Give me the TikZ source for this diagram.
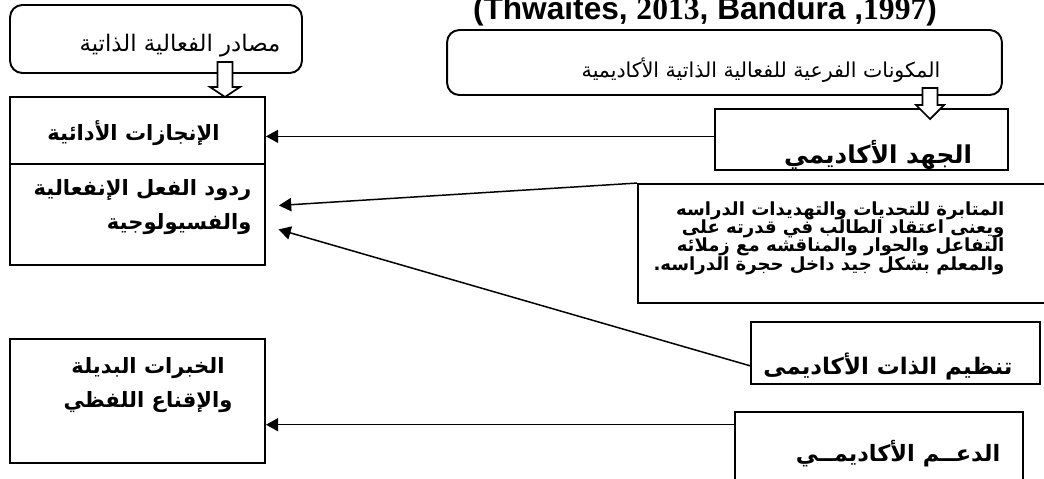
\documentclass[tikz,border=0pt]{standalone}
\usepackage{fontspec}
\setmainfont{Liberation Serif}
\setsansfont{Liberation Sans}
\newfontfamily\arabicfont[Script=Arabic]{DejaVu Sans}
\TeXXeTstate=1
\usepackage{tikz}
\usetikzlibrary{arrows.meta,calc}

\begin{document}
\begin{tikzpicture}[x=0.02cm, y=-0.02cm,
    box/.style={draw, line width=1.1pt, rectangle, inner sep=0pt},
    rbox/.style={box, rounded corners=7pt},
    lbl/.style={font=\arabicfont\bfseries\fontsize{12}{19}\selectfont, inner sep=0pt, align=center},
    nlbl/.style={font=\arabicfont\fontsize{12}{16}\selectfont, inner sep=0pt},
    conn/.style={-{Triangle[length=7pt,width=7.5pt]}, line width=0.85pt},
    hollow/.style={draw, fill=white, line width=1pt, line join=miter}
  ]
  \useasboundingbox (0,0) rectangle (1044,478);
  \clip (0,0) rectangle (1044,478);

  % title (cut at the top)
  \node[font=\bfseries\sffamily\fontsize{18}{18}\selectfont, anchor=base, inner sep=0pt] (ttl) at (705,19)
    {(Thwaites, {\rmfamily 2013}, Bandura ,{\rmfamily 1997})};

  % boxes
  \node[rbox, minimum width=5.84cm, minimum height=1.36cm] (src)  at (156,39) {};
  \node[rbox, minimum width=11.1cm, minimum height=1.3cm]  (comp) at (724.5,62.5) {};
  \node[box, minimum width=5.1cm, minimum height=1.34cm]   (ach)  at (137.5,130.5) {};
  \node[box, minimum width=5.1cm, minimum height=2.02cm]   (emo)  at (137.5,214.5) {};
  \node[box, minimum width=5.1cm, minimum height=2.48cm]   (khib) at (137.5,401) {};
  \node[box, minimum width=5.86cm, minimum height=1.22cm]  (jahd) at (861.5,139.5) {};
  \node[box, minimum width=8.44cm, minimum height=2.38cm]  (mut)  at (849,243.5) {};
  \node[box, minimum width=5.78cm, minimum height=1.24cm]  (tanz) at (895.5,353) {};
  \node[box, minimum width=5.76cm, minimum height=1.4cm]   (daam) at (879,447) {};

  % texts
  \node[nlbl, font=\arabicfont\fontsize{13}{16}\selectfont] (srcT) at (180,46) {\beginR مصادر الفعالية الذاتية\endR};
  \node[nlbl, font=\arabicfont\fontsize{11.7}{16}\selectfont] (compT) at (761,70) {\beginR المكونات الفرعية للفعالية الذاتية الأكاديمية\endR};
  \node[lbl]  (achT)  at (133.5,133) {\beginR الإنجازات الأدائية\endR};
  \node[lbl, align=right] (emoT) at (142.5,207) {\beginR ردود الفعل الإنفعالية\endR\\ \beginR والفسيولوجية\endR};
  \node[lbl]  (khibT) at (148,385) {\beginR الخبرات البديلة\endR\\ \beginR والإقناع اللفظي\endR};
  \node[lbl, font=\arabicfont\bfseries\fontsize{14}{19}\selectfont] (jahdT) at (878,155) {\beginR الجهد الأكاديمي\endR};
  \node[lbl, font=\arabicfont\bfseries\fontsize{10.3}{10.4}\selectfont, align=right] (mutT) at (829,238)
    {\beginR المتابرة للتحديات والتهديدات الدراسه\endR\\
     \beginR ويعنى اعتقاد الطالب في قدرته على\endR\\
     \beginR التفاعل والحوار والمناقشه مع زملائه\endR\\
     \beginR والمعلم بشكل جيد  داخل حجرة الدراسه.\endR};
  \node[lbl, font=\arabicfont\bfseries\fontsize{13}{19}\selectfont] (tanzT) at (888,366) {\beginR تنظيم الذات الأكاديمى\endR};
  \node[lbl, font=\arabicfont\bfseries\fontsize{12.8}{19}\selectfont] (daamT) at (898,454) {\beginR الدعــم الأكاديمــي\endR};

  % block arrows
  \coordinate (tipL) at (225,97);
  \coordinate (tipR) at (930,119);
  \draw[hollow] (tipL) -- ++(-15,-10) -- ++(7.5,0) -- ++(0,-25) -- ++(15,0) -- ++(0,25) -- ++(7.5,0) -- cycle;
  \draw[hollow] (tipR) -- ++(-14,-14) -- ++(6.5,0) -- ++(0,-17) -- ++(15,0) -- ++(0,17) -- ++(6.5,0) -- cycle;

  % connectors
  \coordinate (a1) at ($(jahd.north west)!.45!(jahd.south west)$);
  \draw[conn] (a1) -- (a1 -| ach.east);
  \draw[conn, shorten >=0.26cm] (mut.north west) -- ($(emo.north east)!.42!(emo.south east)$);
  \draw[conn, shorten >=0.26cm] ($(tanz.north west)!.7!(tanz.south west)$) -- ($(emo.north east)!.61!(emo.south east)$);
  \coordinate (a4) at ($(daam.north west)!.19!(daam.south west)$);
  \draw[conn] (a4) -- (a4 -| khib.east);
\end{tikzpicture}
\end{document}
